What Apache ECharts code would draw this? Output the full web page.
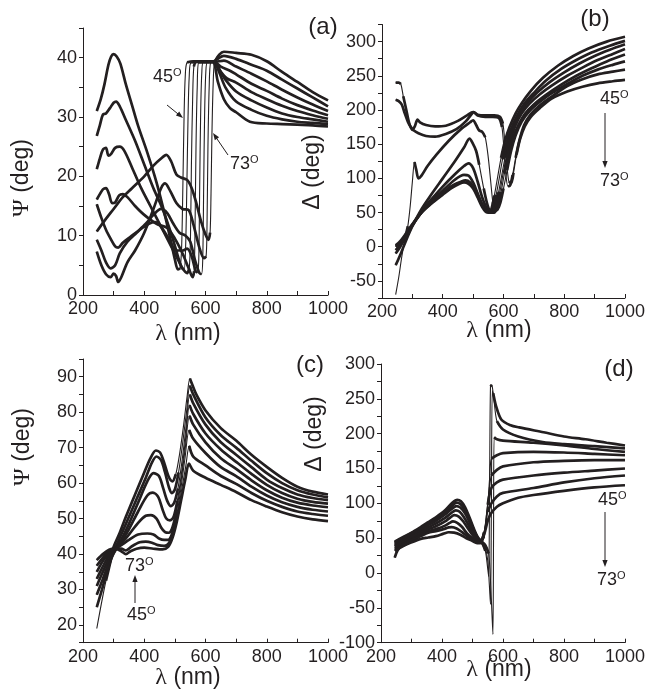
<!DOCTYPE html>
<html>
<head>
<meta charset="utf-8">
<script src="https://cdn.jsdelivr.net/npm/echarts@6.0.0/dist/echarts.min.js"></script>
<style>
  html, body { margin: 0; padding: 0; background: #fff; }
  #chart { width: 648px; height: 695px; }
</style>
</head>
<body>
<div id="chart"></div>
<script>
// incidence angles, one curve each per panel
var angles = [45, 49, 53, 57, 61, 65, 69, 73]
var xTicks = [200, 400, 600, 800, 1000]

// (a) Psi vs wavelength
var a45 = [[245,31],[258,33],[270,35.5],[283,38.8],[292,40.2],[300,40.6],[310,40.2],[322,39],[340,35.5],[360,32],[380,28.5],[410,24],[440,19],[465,14],[485,9.5],[500,6],[510,4.3],[517,4.5],[522,8],[526,18],[530,30],[534,37],[540,39.2],[560,39.4],[600,39.4],[625,39.3],[640,36],[660,33],[680,31.5],[700,30.8],[745,29.2],[800,28.9],[850,28.8],[900,28.7],[950,28.6],[1000,28.4]]
var a49 = [[245,26.8],[255,28.6],[265,30.4],[275,30.6],[288,31.5],[300,32.4],[308,32.6],[320,31.8],[340,29.5],[370,26],[400,22],[430,18],[460,14.5],[490,10],[510,6.5],[522,4.6],[530,4.3],[535,8],[539,18],[543,30],[547,37],[553,39.2],[600,39.4],[628,39.3],[645,37.5],[665,35],[700,32.6],[750,31.2],[800,30.2],[850,29.6],[900,29.2],[950,29],[1000,28.8]]
var a53 = [[245,21.2],[255,23],[265,24.5],[275,24.8],[283,23.5],[292,23.8],[305,24.8],[320,25],[335,24.3],[360,21.5],[390,18],[420,15],[450,12],[480,9],[505,6.5],[525,4.5],[540,3.7],[547,4.5],[551,10],[554,22],[558,33],[562,38.5],[570,39.3],[628,39.3],[645,38],[665,36.3],[700,34.3],[750,32.8],[800,31.6],[850,30.6],[900,30],[950,29.6],[1000,29.2]]
var a57 = [[245,16.1],[255,17],[265,17.8],[275,18],[285,17],[295,15.5],[305,15.6],[318,16.8],[330,17],[345,16.5],[370,15],[400,13.5],[440,12],[475,11.3],[500,9.5],[525,7],[545,4.5],[558,3],[563,4],[566,12],[569,25],[573,35],[578,39.2],[628,39.3],[650,37.6],[670,36.5],[700,35.8],[750,34.2],[800,33],[850,31.9],[900,31],[950,30.3],[1000,29.7]]
var a61 = [[245,15.3],[260,13],[275,11],[290,9.5],[305,8.2],[315,8],[330,8.8],[355,9.8],[385,11],[415,12],[435,12.3],[455,11.5],[480,9.5],[505,7.5],[525,7.5],[540,7.8],[555,6.5],[568,4],[574,3.8],[578,6],[581,18],[584,30],[588,37.5],[594,39.3],[628,39.3],[650,38.5],[680,37.8],[700,37.2],[750,35.6],[800,34.4],[850,33.1],[900,32],[950,31.1],[1000,30.3]]
var a65 = [[245,9.3],[260,7.5],[275,5.5],[290,4.5],[305,5],[320,7],[345,9],[375,10.5],[405,12],[430,13.5],[455,14.5],[475,13.8],[495,12],[515,10.5],[535,10],[550,9],[565,6],[580,3.7],[587,3.5],[591,6],[594,18],[597,30],[601,37.5],[607,39.3],[628,39.3],[660,39.5],[700,38.5],[750,37.3],[800,36],[850,34.6],[900,33.3],[950,32.1],[1000,31]]
var a69 = [[245,7.3],[260,5],[275,3.5],[290,3],[300,3.6],[308,3.2],[315,2.2],[325,3],[345,5.5],[370,7.5],[400,10.5],[430,14.5],[455,18],[468,18.8],[485,17.5],[505,15.5],[525,14.5],[545,14.3],[560,12],[580,8],[595,6.2],[602,6.5],[605,12],[608,25],[612,35],[617,39.3],[628,39.4],[660,40.3],[700,39.8],[750,38.8],[800,37.8],[850,36.3],[900,34.8],[950,33.3],[1000,31.8]]
var a73 = [[245,10.7],[270,12.5],[300,14.5],[330,16.5],[360,18],[400,20],[430,21.8],[455,23],[472,23.6],[488,22.5],[505,20.3],[520,19.8],[540,19.4],[555,18],[570,15.5],[585,12.5],[600,10.2],[610,9.3],[615,10.5],[618,17],[621,27],[625,35.5],[630,39.3],[645,40.5],[660,41],[700,40.8],[750,40.5],[800,39.4],[850,37.6],[900,35.9],[950,34.2],[1000,32.8]]

// (b) Delta vs wavelength
var b45 = [[245,2],[260,8],[280,20],[300,33],[330,50],[360,62],[400,76],[430,86],[455,92],[470,94],[485,92],[500,85],[515,72],[530,58],[542,51],[552,50],[560,55],[570,75],[580,100],[592,130],[605,155],[620,175],[640,195],[660,210],[690,228],[730,247],[780,265],[830,279],[880,290],[940,300],[1000,307]]
var b49 = [[245,0],[260,6],[280,18],[300,32],[330,50],[360,63],[400,78],[430,89],[460,95],[475,97],[490,94],[505,84],[520,70],[535,57],[548,51],[557,50],[566,56],[576,76],[586,100],[597,128],[610,152],[625,172],[645,192],[670,210],[700,225],[740,243],[790,260],[840,273],[890,284],[950,294],[1000,301]]
var b53 = [[245,-5],[260,3],[280,17],[300,31],[330,50],[360,65],[400,82],[440,98],[470,105],[485,104],[500,94],[515,78],[530,62],[545,53],[558,50],[567,53],[575,62],[584,80],[594,104],[605,130],[618,155],[635,177],[655,196],[680,211],[710,225],[750,240],[800,255],[850,268],[900,279],[950,288],[1000,296]]
var b57 = [[245,-10],[260,0],[280,16],[300,31],[330,52],[360,68],[400,88],[440,106],[470,118],[485,122],[500,115],[515,95],[530,72],[545,56],[558,50],[568,52],[578,62],[588,80],[598,105],[610,132],[624,157],[640,178],[660,195],[685,209],[720,223],[760,236],[810,250],[860,262],[910,273],[960,282],[1000,289]]
var b61 = [[245,-27],[260,-12],[280,10],[300,30],[330,55],[360,75],[400,100],[440,125],[470,145],[488,158],[500,150],[510,140],[520,120],[535,85],[548,60],[560,50],[570,50],[580,58],[592,80],[603,107],[615,133],[630,157],[648,177],[670,194],[700,208],[740,222],[790,237],[840,250],[890,261],[940,271],[1000,281]]
var b65 = [[245,-70],[255,-45],[265,-15],[275,10],[285,30],[293,60],[300,95],[307,124],[313,112],[320,100],[330,104],[350,118],[380,135],[420,155],[460,172],[490,182],[500,185],[510,178],[520,170],[530,168],[540,160],[550,130],[558,95],[565,65],[572,53],[580,54],[590,65],[600,85],[612,112],[625,140],[640,163],[660,183],[685,198],[720,212],[760,225],[810,238],[860,250],[910,259],[960,266],[1000,271]]
var b69 = [[245,215],[255,213],[265,208],[275,195],[285,183],[295,175],[305,170],[320,166],[345,162],[375,161],[410,165],[445,172],[475,183],[495,194],[502,197],[515,192],[540,190],[565,190],[585,188],[595,175],[602,140],[608,105],[615,88],[622,90],[630,105],[640,130],[652,155],[668,178],[690,194],[720,207],[760,220],[810,235],[860,245],[910,252],[960,256],[1000,259]]
var b73 = [[245,240],[255,240],[262,238],[270,220],[280,200],[290,180],[300,171],[308,176],[317,186],[325,182],[345,178],[375,176],[410,177],[450,184],[480,192],[500,197],[515,193],[540,192],[570,192],[588,190],[598,180],[605,150],[612,115],[618,95],[625,93],[633,108],[643,135],[655,158],[670,176],[690,190],[720,203],[760,217],[810,227],[860,234],[910,239],[960,242],[1000,244]]

// (c) Psi vs wavelength
var c45 = [[245,19],[260,26],[275,32.5],[290,38],[300,42],[320,46],[340,50.5],[370,56.8],[400,63],[420,67],[438,69.2],[452,68.6],[466,65.5],[480,61.8],[492,60.5],[503,62.5],[515,68],[528,76],[540,84.5],[549,89.5],[558,87.5],[570,85],[600,80.5],[650,75.5],[700,72],[750,68],[800,64.6],[850,61.5],[900,59],[950,57.6],[1000,56.8]]
var c49 = [[245,25],[262,30],[280,35.5],[300,40.5],[320,44.5],[345,49.5],[375,55.5],[405,61.5],[425,65.8],[440,67.5],[455,66.5],[468,63],[480,59],[490,57.2],[500,58.2],[512,63],[525,71],[538,80],[549,87.5],[560,85],[600,78.5],[650,73.5],[700,70],[750,66.3],[800,62.8],[850,60],[900,58],[950,56.8],[1000,56]]
var c53 = [[245,28.5],[265,33],[285,37.5],[305,41],[325,44],[350,48.5],[380,54.5],[410,60.5],[430,62.8],[448,62],[462,58.5],[475,55],[487,53.5],[498,54.5],[510,58.5],[523,66],[536,75.5],[549,85],[560,82.5],[600,76.5],[650,71.5],[700,68],[750,64.5],[800,61],[850,58.6],[900,56.8],[950,55.8],[1000,55.2]]
var c57 = [[245,31],[265,35],[285,38.5],[305,41],[325,43.5],[350,47],[380,52],[410,56.5],[428,57.3],[445,56.2],[460,52.5],[472,50],[484,49.5],[496,50.5],[508,55],[522,63],[535,72.5],[548,82],[560,79.5],[600,74],[650,69.5],[700,66],[750,62.6],[800,59.5],[850,57.2],[900,55.6],[950,54.7],[1000,54.2]]
var c61 = [[245,33],[265,36.5],[285,39.5],[305,41.3],[325,43],[350,45.5],[380,48.8],[405,50.8],[422,51],[440,50],[455,47.5],[468,46.2],[480,46],[492,47.5],[505,52],[520,60.5],[534,70],[548,79],[560,76.5],[600,71.5],[650,67],[700,64],[750,60.8],[800,58],[850,55.9],[900,54.5],[950,53.7],[1000,53.2]]
var c65 = [[245,35],[265,38],[285,40.3],[305,41.5],[325,42.5],[350,44],[380,45.5],[410,45.8],[430,45.5],[450,44.3],[465,44],[478,44],[490,45.5],[503,49.5],[518,57.5],[533,67],[547,75],[560,72.5],[600,68.5],[650,64.5],[700,62],[750,59],[800,56.5],[850,54.6],[900,53.3],[950,52.5],[1000,52]]
var c69 = [[245,36.7],[265,39],[285,40.8],[305,41.5],[325,41.5],[340,41],[360,42.2],[385,43.3],[405,43.5],[425,43.2],[445,42.5],[465,42.3],[480,43],[493,45.5],[507,50.5],[522,58],[536,65],[547,70.5],[560,67.5],[600,65],[650,62],[700,59.8],[750,57.2],[800,55],[850,53.3],[900,52],[950,51.3],[1000,50.8]]
var c73 = [[245,38.3],[265,40],[285,41.2],[305,41.5],[325,40.8],[340,40],[355,40.8],[375,41.5],[400,41.8],[430,41.5],[460,41.3],[478,42],[492,44.5],[506,49],[520,55],[534,61],[546,65.5],[560,63.5],[600,61.5],[650,59.5],[700,57.5],[750,55.2],[800,53.4],[850,51.8],[900,50.6],[950,49.8],[1000,49.3]]

// (d) Delta vs wavelength
var d45 = [[245,45],[270,51],[300,58],[330,66],[355,73],[380,80],[410,90],[432,100],[450,105],[462,103],[475,95],[490,80],[505,63],[518,51],[530,45],[542,32],[549,10],[553,-5],[556,120],[559,268],[563,270],[568,258],[577,240],[595,220],[625,212],[653,209],[733,202],[800,196],[870,192],[940,187],[1000,183]]
var d49 = [[245,44],[270,50],[300,57],[330,64],[355,71],[380,78],[410,87],[432,96],[448,101],[460,99],[475,91],[490,77],[505,61],[518,50],[530,44],[542,36],[550,18],[555,-15],[559,-45],[562,100],[565,262],[570,250],[580,218],[600,206],[650,196],[730,188],[800,185],[900,182],[1000,179]]
var d53 = [[245,42],[270,48],[300,55],[330,62],[355,69],[380,75],[410,84],[432,92],[447,96],[460,94],[475,86],[490,73],[505,58],[518,49],[530,45],[542,40],[553,28],[560,-20],[564,-60],[567,-88],[569,50],[571,195],[580,192],[600,190],[700,187],[800,183],[900,178],[1000,174]]
var d57 = [[245,40],[270,46],[300,53],[330,60],[355,66],[380,71],[410,79],[430,86],[445,90],[458,88],[472,80],[488,68],[503,56],[516,48],[527,46],[537,52],[548,85],[556,135],[562,164],[580,169],[600,172],[700,174],[800,173],[900,171],[1000,169]]
var d61 = [[245,38],[270,44],[300,51],[330,58],[355,63],[380,67],[410,74],[428,80],[440,83],[455,81],[470,74],[487,63],[503,53],[516,47],[527,46],[538,56],[550,100],[562,140],[580,148],[600,153],[700,159],[800,161],[900,162],[1000,162]]
var d65 = [[245,35],[270,41],[300,48],[330,55],[355,60],[380,63],[410,68],[425,72],[436,74],[450,72],[466,66],[482,57],[500,50],[514,46],[526,45],[538,58],[550,98],[562,122],[580,130],[600,134],[700,140],[800,144],[900,147],[1000,150]]
var d69 = [[245,22],[255,33],[270,40],[300,47],[330,53],[355,58],[380,60],[405,63],[422,65.5],[432,66],[448,64],[465,59],[482,53],[500,48],[514,45],[526,45],[538,58],[550,88],[562,100],[580,110],[600,115],[700,122],[800,130],[900,136],[1000,140]]
var d73 = [[245,32],[270,38],[300,44],[330,49],[355,51],[380,53],[405,56.5],[422,58.5],[440,58],[460,55],[480,50],[500,46],[515,43],[526,43],[538,55],[550,75],[560,85],[580,95],[600,100],[650,108],[700,112],[800,118],[900,123],[1000,126]]

var panels = [
  [a45, a49, a53, a57, a61, a65, a69, a73],
  [b45, b49, b53, b57, b61, b65, b69, b73],
  [c45, c49, c53, c57, c61, c65, c69, c73],
  [d45, d49, d53, d57, d61, d65, d69, d73]
]

var ink = '#231f20'
var font = 'Liberation Sans, Arial, sans-serif'

var grids = [
  { left: 83, top: 28, width: 245, height: 267 },
  { left: 382, top: 24.5, width: 245, height: 273.5 },
  { left: 83, top: 359, width: 245, height: 283.7 },
  { left: 381, top: 364, width: 246, height: 278.7 }
]
// min, max, tick step, label step
var yScales = [[0, 45, 5, 10], [-75, 325, 25, 50], [15, 95, 5, 10], [-100, 300, 25, 50]]

var chart = echarts.init(document.getElementById('chart'), null, { renderer: 'canvas' })

var xAxis = grids.map(function (g, i) {
  return {
    type: 'value', gridIndex: i, min: 200, max: 1000, interval: 100,
    axisLine: { onZero: false, lineStyle: { color: ink, width: 1 } },
    axisTick: { inside: true, length: 4, lineStyle: { color: ink } },
    splitLine: { show: false },
    axisLabel: {
      color: ink, fontSize: 18, fontFamily: font, margin: 5,
      formatter: function (v) { return xTicks.indexOf(v) >= 0 ? String(v) : '' }
    }
  }
})

var yAxis = yScales.map(function (s, i) {
  return {
    type: 'value', gridIndex: i, min: s[0], max: s[1], interval: s[2],
    axisLine: { show: true, onZero: false, lineStyle: { color: ink, width: 1 } },
    axisTick: { show: true, inside: false, length: 4, lineStyle: { color: ink } },
    splitLine: { show: false },
    axisLabel: {
      color: ink, fontSize: 18, fontFamily: font, margin: 6,
      formatter: function (v) { return v % s[3] === 0 ? String(v) : '' }
    }
  }
})

// the measured points are sparse where a curve is steep, so those stretches
// are drawn thin; the rest is drawn thick on top
function thickParts(d, g, s) {
  var sx = g.width / 800, sy = g.height / (s[1] - s[0])
  var out = []
  for (var i = 0; i < d.length - 1; i++) {
    var dx = (d[i + 1][0] - d[i][0]) * sx
    var dy = Math.abs(d[i + 1][1] - d[i][1]) * sy
    if (dy > 5 * dx) continue
    if (out.length && out[out.length - 1] !== d[i]) out.push([d[i][0], '-'])
    if (out[out.length - 1] !== d[i]) out.push(d[i])
    out.push(d[i + 1])
  }
  return out
}

var series = []
panels.forEach(function (curves, p) {
  curves.forEach(function (d, k) {
    series.push({
      type: 'line', name: angles[k] + '° thin', xAxisIndex: p, yAxisIndex: p,
      data: d, showSymbol: false, smooth: 0.3, silent: true,
      lineStyle: { color: ink, width: 1.1 }
    })
    series.push({
      type: 'line', name: angles[k] + '°', xAxisIndex: p, yAxisIndex: p,
      data: thickParts(d, grids[p], yScales[p]), showSymbol: false, smooth: 0.3, silent: true,
      connectNulls: false,
      lineStyle: { color: ink, width: 2.7 }
    })
  })
})

// annotations
function txt(x, y, text, size, rot) {
  return {
    type: 'text', x: x, y: y, rotation: rot || 0, silent: true,
    style: {
      text: text, fill: ink, font: size + 'px ' + font, align: 'center', verticalAlign: 'middle',
      rich: {
        g: { fontFamily: 'Liberation Serif, serif', fontSize: size + 1, fill: ink },
        t: { fontFamily: font, fontSize: size, fill: ink }
      }
    }
  }
}
function deg(x, y, n) {
  return {
    type: 'text', x: x, y: y, silent: true,
    style: {
      text: '{n|' + n + '}{s|O}', align: 'left', verticalAlign: 'middle',
      rich: {
        n: { fontFamily: font, fontSize: 18, fill: ink, lineHeight: 20 },
        s: { fontFamily: font, fontSize: 11, fill: ink, verticalAlign: 'top' }
      }
    }
  }
}
function arrow(x1, y1, x2, y2) {
  var a = Math.atan2(y2 - y1, x2 - x1), h = 7, w = 2.6
  var c = Math.cos(a), s = Math.sin(a)
  return [
    { type: 'line', silent: true, shape: { x1: x1, y1: y1, x2: x2 - c * 4, y2: y2 - s * 4 }, style: { stroke: ink, lineWidth: 1 } },
    { type: 'polygon', silent: true, shape: { points: [[x2, y2], [x2 - h * c + w * s, y2 - h * s - w * c], [x2 - h * c - w * s, y2 - h * s + w * c]] }, style: { fill: ink } }
  ]
}

var graphic = [
  txt(323, 27, '(a)', 24), txt(595, 19, '(b)', 24), txt(310, 365, '(c)', 24), txt(619, 369, '(d)', 24),
  txt(22, 178, '{g|Ψ}{t| (deg)}', 23, Math.PI / 2),
  txt(313, 172, 'Δ (deg)', 23, Math.PI / 2),
  txt(23, 447, '{g|Ψ}{t| (deg)}', 23, Math.PI / 2),
  txt(315, 434, 'Δ (deg)', 23, Math.PI / 2),
  txt(188, 334, '{g|λ}{t| (nm)}', 23),
  txt(499, 331, '{g|λ}{t| (nm)}', 23),
  txt(188, 678, '{g|λ}{t| (nm)}', 23),
  txt(499, 670, '{g|λ}{t| (nm)}', 23),
  deg(153, 77, 45), deg(230, 164, 73),
  deg(600, 99, 45), deg(600, 181, 73),
  deg(125, 566, 73), deg(127, 615, 45),
  deg(598, 500, 45), deg(597, 580, 73)
].concat(
  arrow(167, 105, 183, 118), arrow(228, 155, 213, 133),
  arrow(605, 113, 605, 168),
  arrow(135, 603, 135, 575),
  arrow(605, 512, 605, 567)
)

chart.setOption({
  animation: false,
  backgroundColor: '#fff',
  grid: grids,
  xAxis: xAxis,
  yAxis: yAxis,
  series: series,
  graphic: graphic
})
</script>
</body>
</html>
